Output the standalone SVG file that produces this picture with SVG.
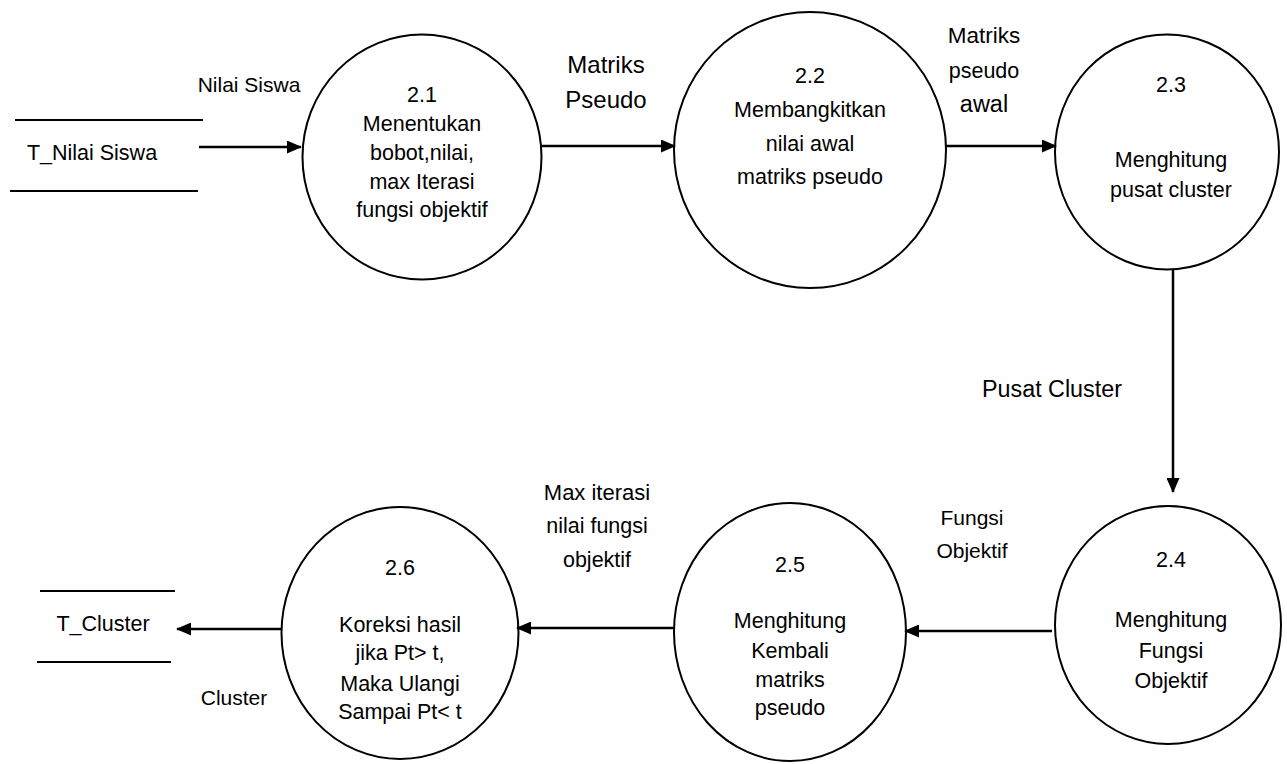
<svg xmlns="http://www.w3.org/2000/svg" width="1287" height="764" viewBox="0 0 1287 764">
<style>
.t{font-family:"Liberation Sans",Arial,sans-serif;font-size:21.5px;fill:#000;text-anchor:middle}
.l{font-family:"Liberation Sans",Arial,sans-serif;font-size:21px;fill:#000;text-anchor:middle}
.p{fill:#fff;stroke:#000;stroke-width:2}
.s{stroke:#000;stroke-width:2}
.c{stroke:#000;stroke-width:2.5;fill:none}
</style>
<defs>
<marker id="ah" markerWidth="15" markerHeight="13" refX="14" refY="6.5" orient="auto" markerUnits="userSpaceOnUse">
<path d="M0,0 L15,6.5 L0,13 Z" fill="#000"/>
</marker>
</defs>
<rect width="1287" height="764" fill="#fff"/>
<g id="store-nilai">
<line class="s" x1="15" y1="120" x2="203" y2="120"/>
<line class="s" x1="10" y1="191" x2="198" y2="191"/>
<text class="t" x="92" y="160">T_Nilai Siswa</text>
</g>
<g id="store-cluster">
<line class="s" x1="40" y1="591" x2="175" y2="591"/>
<line class="s" x1="37" y1="662" x2="171" y2="662"/>
<text class="t" x="103" y="631">T_Cluster</text>
</g>
<g id="p21">
<ellipse class="p" cx="422" cy="157" rx="119.5" ry="122.5"/>
<text class="t" x="422" y="102">2.1</text>
<text class="t" x="422" y="131">Menentukan</text>
<text class="t" x="422" y="160">bobot,nilai,</text>
<text class="t" x="422" y="189">max Iterasi</text>
<text class="t" x="422" y="217">fungsi objektif</text>
</g>
<g id="p22">
<ellipse class="p" cx="810" cy="150" rx="136" ry="138"/>
<text class="t" x="810" y="83">2.2</text>
<text class="t" x="810" y="117">Membangkitkan</text>
<text class="t" x="810" y="151">nilai awal</text>
<text class="t" x="810" y="184">matriks pseudo</text>
</g>
<g id="p23">
<ellipse class="p" cx="1167" cy="152" rx="112" ry="117.5"/>
<text class="t" x="1171" y="92">2.3</text>
<text class="t" x="1171" y="167">Menghitung</text>
<text class="t" x="1171" y="197">pusat cluster</text>
</g>
<g id="p24">
<ellipse class="p" cx="1168" cy="625" rx="113" ry="119"/>
<text class="t" x="1171" y="567">2.4</text>
<text class="t" x="1171" y="627">Menghitung</text>
<text class="t" x="1171" y="658">Fungsi</text>
<text class="t" x="1171" y="688">Objektif</text>
</g>
<g id="p25">
<ellipse class="p" cx="790" cy="632" rx="116" ry="129"/>
<text class="t" x="790" y="572">2.5</text>
<text class="t" x="790" y="628">Menghitung</text>
<text class="t" x="790" y="658">Kembali</text>
<text class="t" x="790" y="687">matriks</text>
<text class="t" x="790" y="715">pseudo</text>
</g>
<g id="p26">
<ellipse class="p" cx="400" cy="633" rx="118.5" ry="126"/>
<text class="t" x="400" y="575">2.6</text>
<text class="t" x="400" y="632">Koreksi hasil</text>
<text class="t" x="400" y="660">jika Pt&gt; t,</text>
<text class="t" x="400" y="691">Maka Ulangi</text>
<text class="t" x="400" y="719">Sampai Pt&lt; t</text>
</g>
<g id="connectors">
<line class="c" x1="199" y1="147" x2="301" y2="147" marker-end="url(#ah)"/>
<line class="c" x1="542" y1="146" x2="675" y2="146" marker-end="url(#ah)"/>
<line class="c" x1="946" y1="146" x2="1056" y2="146" marker-end="url(#ah)"/>
<line class="c" x1="1173" y1="270" x2="1173" y2="492" marker-end="url(#ah)"/>
<line class="c" x1="1052" y1="631" x2="905" y2="631" marker-end="url(#ah)"/>
<line class="c" x1="674" y1="628" x2="517" y2="628" marker-end="url(#ah)"/>
<line class="c" x1="281" y1="629" x2="177" y2="629" marker-end="url(#ah)"/>
<text class="l" x="249" y="92">Nilai Siswa</text>
<text class="l" x="606" y="73" style="font-size:24px">Matriks</text>
<text class="l" x="606" y="108" style="font-size:24px">Pseudo</text>
<text class="l" x="984" y="43" style="font-size:22.5px">Matriks</text>
<text class="l" x="984" y="78" style="font-size:21.5px">pseudo</text>
<text class="l" x="984" y="112" style="font-size:23.5px">awal</text>
<text class="l" x="1052" y="397" style="font-size:23.3px">Pusat Cluster</text>
<text class="l" x="972" y="525">Fungsi</text>
<text class="l" x="972" y="558">Objektif</text>
<text class="l" x="597" y="500" style="font-size:22px">Max iterasi</text>
<text class="l" x="597" y="533" style="font-size:21.5px">nilai fungsi</text>
<text class="l" x="597" y="567" style="font-size:21.5px">objektif</text>
<text class="l" x="234" y="705">Cluster</text>
</g>
</svg>
